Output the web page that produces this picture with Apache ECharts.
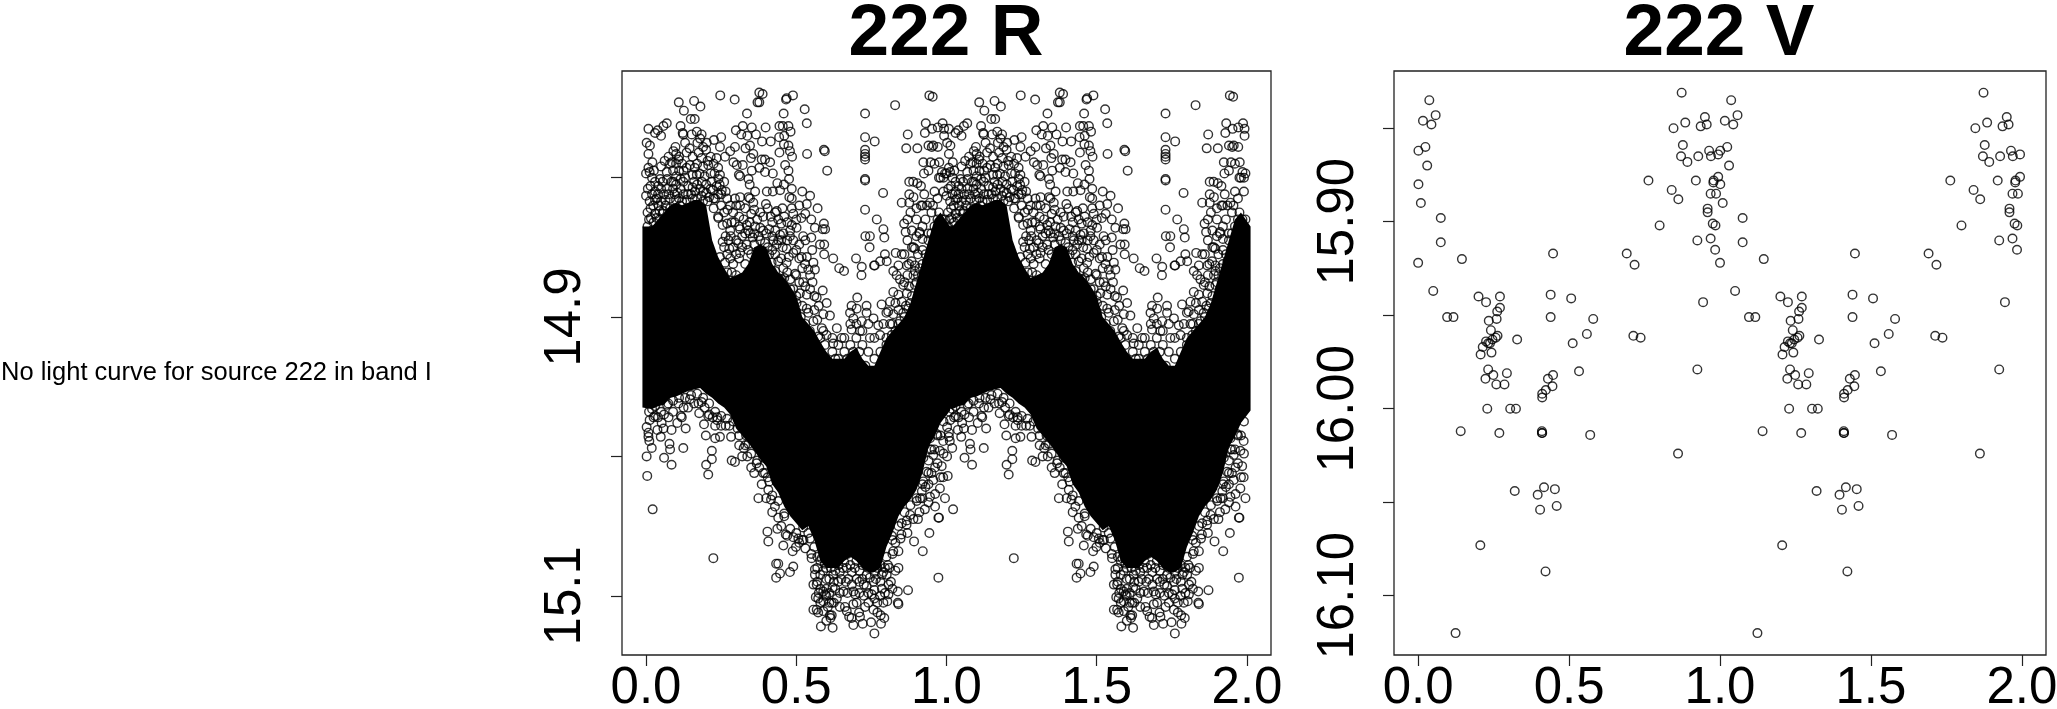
<!DOCTYPE html>
<html><head><meta charset="utf-8">
<style>html,body{margin:0;padding:0;background:#fff}#c{width:2057px;height:709px}</style>
<script src="https://cdn.jsdelivr.net/npm/echarts@6/dist/echarts.min.js"></script>
</head><body><div id="c"></div>
<script>
// All values are estimates. [phase, magnitude], one period; the plot repeats it at phase+1.
const rUpper = [[.247,14.741],[.295,14.744],[.377,14.739],[.388,14.740],[.377,14.746],[.371,14.746],[.466,14.744],[.468,14.743],[.489,14.741],[.109,14.746],[.160,14.745],[.126,14.752],[.181,14.749],[.149,14.758],[.162,14.758],[.336,14.754],[.458,14.754],[.528,14.751],[.535,14.761],[.729,14.754],[.829,14.748],[.943,14.741],[.954,14.742],[.729,14.771],[.761,14.774],[.871,14.769],[.866,14.779],[.903,14.779],[.592,14.780],[.595,14.781],[.536,14.783],[.603,14.795],[.729,14.780],[.729,14.783],[.729,14.785],[.729,14.787],[.729,14.801],[.729,14.802],[.789,14.811],[.729,14.823],[.876,14.803],[.889,14.803],[.903,14.804],[.915,14.806],[.876,14.812],[.851,14.818],[.876,14.818],[.926,14.812],[.890,14.814],[.931,14.761],[.952,14.765],[.928,14.768],[.971,14.764],[.987,14.761],[.992,14.765],[.992,14.770],[.940,14.777],[.951,14.778],[.956,14.777],[.971,14.778],[.923,14.789],[.947,14.789],[.976,14.789],[.925,14.797],[.945,14.818],
[.008,14.765],[.030,14.768],[.050,14.770],[.039,14.766],[.058,14.763],[.069,14.761],[.002,14.775],[.013,14.777],[.008,14.783],[.021,14.789],[.008,14.793],[.000,14.797],[.115,14.763],[.122,14.768],[.124,14.769],[.169,14.767],[.185,14.769],[.152,14.769],[.130,14.775],[.171,14.775],[.202,14.775],[.226,14.773],[.250,14.771],[.246,14.778],[.091,14.781],[.296,14.778],[.280,14.781],[.263,14.785],[.331,14.779],[.346,14.777],[.299,14.766],[.322,14.763],[.352,14.764],[.317,14.769],[.337,14.770],[.366,14.769],[.398,14.764],[.444,14.763],[.455,14.763],[.474,14.763],[.481,14.767],[.460,14.770],[.443,14.771],[.386,14.774],[.415,14.774],[.459,14.776],[.474,14.777],[.444,14.782],[.479,14.781],[.486,14.785],[.357,14.783],[.349,14.786],[.385,14.787],[.413,14.789],[.396,14.787],[.291,14.789],[.302,14.791],[.322,14.791],[.377,14.793],[.352,14.795],[.396,14.796],[.422,14.797],[.463,14.791],[.474,14.795],[.476,14.801],[.309,14.798],[.313,14.799],[.341,14.801],[.345,14.805],[.363,14.810],[.341,14.814],[.437,14.804],[.459,14.805],[.446,14.809],[.485,14.808],[.485,14.815],[.477,14.814],[.402,14.810],[.422,14.810],[.520,14.810],[.546,14.813],[.535,14.819],[.571,14.822],[.485,14.822],[.454,14.822],[.399,14.819],[.435,14.824],[.246,14.798],[.241,14.801],[.252,14.809],[.191,14.810],[.219,14.803],[.222,14.809],[.296,14.815],[.313,14.814],[.346,14.815],[.357,14.818],[.271,14.823],[.313,14.820],[.069,14.796],[.080,14.790],[.047,14.801],[.091,14.803],[.124,14.803],[.169,14.798],[.207,14.791],[.146,14.791],[.108,14.787],[.186,14.803],[.163,14.810],[.035,14.815],[.000,14.813],[.024,14.820],[.058,14.824],[.113,14.820]];
const rUpperDense = [[.10,14.783],[.11,14.785],[.12,14.790],[.10,14.790],[.125,14.795],[.11,14.795],[.09,14.795],[.18,14.772],[.19,14.778],[.175,14.782],[.20,14.780],[.185,14.786],[.205,14.788],[.19,14.792],[.17,14.790],[.215,14.785],[.02,14.800],[.03,14.803],[.015,14.806],[.04,14.806],[.03,14.810],[.02,14.812],[.10,14.805],[.115,14.808],[.125,14.812],[.095,14.812],[.11,14.815],[.08,14.815],[.13,14.800],[.14,14.806],[.15,14.812],[.07,14.808],[.06,14.812],[.17,14.815],[.19,14.817],[.21,14.814],[.23,14.815],[.25,14.812],[.16,14.803],[.18,14.808],[.20,14.805],[.005,14.825],[.015,14.822],[.03,14.826],[.045,14.824],[.01,14.830],[.025,14.832],[.045,14.830],[.065,14.82],[.08,14.822],[.26,14.825],[.27,14.833],[.24,14.828],[.225,14.822],[.29,14.825],[.31,14.828],[.33,14.822],[.35,14.826],[.37,14.83],[.39,14.828],[.42,14.832],[.44,14.83],[.46,14.828],[.5,14.83],[.28,14.838],[.3,14.845],[.32,14.842],[.34,14.838],[.36,14.84],[.38,14.836],[.4,14.84],[.42,14.842],[.48,14.838],[.27,14.868],[.29,14.862],[.31,14.858],[.33,14.862],[.35,14.855],[.37,14.858],[.39,14.868],[.41,14.855],[.43,14.855],[.45,14.858],[.47,14.868],[.5,14.87],[.52,14.865],[.45,14.873],[.48,14.88],[.5,14.885],[.52,14.892],[.54,14.897],[.57,14.902],[.59,14.91],[.62,14.925],[.64,14.93],[.66,14.925],[.68,14.92],[.7,14.915],[.72,14.92],[.74,14.925],[.76,14.93],[.78,14.925],[.8,14.915],[.82,14.905],[.84,14.905],[.86,14.9],[.88,14.89],[.9,14.875],[.91,14.865],[.93,14.855],[.95,14.84],[.97,14.83],[.99,14.81],[.96,14.81],[.98,14.8],[.995,14.797],[.985,14.796],[.99,14.80],[.975,14.8],[.97,14.815],[.95,14.825],[.93,14.83],[.91,14.84],[.89,14.85],[.87,14.87],[.96,14.79],[.94,14.795],[.92,14.82],[.9,14.83]];
const rUpperPeak = [[.012,14.796],[.026,14.795],[.05,14.792],[.062,14.788],[.075,14.785],[.086,14.789],[.098,14.778],[.135,14.782],[.145,14.779],[.155,14.785],[.162,14.793],[.225,14.79],[.235,14.786],[.24,14.793],[.215,14.797],[.228,14.797],[.195,14.799],[.178,14.797],[.155,14.798],[.135,14.793],[.115,14.801],[.1,14.799],[.085,14.803],[.07,14.801],[.055,14.803],[.05,14.808],[.04,14.812],[.075,14.812],[.09,14.808],[.105,14.811],[.14,14.812],[.155,14.807],[.17,14.805],[.185,14.813],[.2,14.811],[.215,14.808],[.235,14.806],[.245,14.805],[.26,14.803],[.265,14.81],[.24,14.812],[.225,14.815],[.205,14.817],[.155,14.815],[.135,14.816],[.12,14.817],[.1,14.816],[.065,14.816],[.05,14.817],[.012,14.817],[.006,14.808],[.03,14.816],[.042,14.82],[.016,14.829],[.035,14.829],[.005,14.835],[.02,14.838],[.055,14.826],[.27,14.815],[.28,14.82],[.3,14.82],[.285,14.832],[.25,14.82]];
const rDescent = [[.325,14.83],[.345,14.832],[.36,14.823],[.38,14.825],[.405,14.822],[.415,14.828],[.43,14.825],[.45,14.833],[.47,14.832],[.49,14.826],[.51,14.82],[.53,14.826],[.55,14.83],[.295,14.832],[.31,14.835],[.33,14.84],[.355,14.843],[.375,14.842],[.39,14.838],[.41,14.837],[.43,14.838],[.45,14.845],[.47,14.845],[.49,14.845],[.51,14.848],[.53,14.845],[.55,14.843],[.265,14.842],[.275,14.845],[.29,14.85],[.3,14.855],[.32,14.85],[.34,14.852],[.36,14.848],[.38,14.845],[.405,14.85],[.42,14.852],[.44,14.845],[.455,14.85],[.475,14.857],[.51,14.858],[.54,14.866],[.5,14.852],[.44,14.86],[.43,14.867],[.405,14.872],[.42,14.875],[.46,14.872],[.48,14.873],[.51,14.875],[.53,14.878],[.56,14.885],[.575,14.892],[.36,14.862],[.345,14.868],[.33,14.872],[.3,14.87],[.285,14.868],[.26,14.85],[.255,14.846],[.27,14.855],[.31,14.878],[.32,14.882],[.345,14.878],[.36,14.88],[.47,14.885],[.49,14.88],[.5,14.896],[.515,14.9],[.53,14.905],[.545,14.91],[.56,14.895],[.58,14.915],[.595,14.92]];
const rAscent = [[.88,14.825],[.9,14.822],[.915,14.82],[.935,14.82],[.955,14.82],[.975,14.825],[.985,14.83],[.995,14.83],[.87,14.83],[.885,14.838],[.9,14.842],[.92,14.835],[.94,14.84],[.96,14.835],[.975,14.835],[.87,14.845],[.885,14.85],[.905,14.855],[.92,14.852],[.94,14.845],[.86,14.855],[.875,14.862],[.89,14.87],[.905,14.87],[.92,14.862],[.935,14.86],[.845,14.873],[.86,14.875],[.875,14.878],[.885,14.885],[.9,14.89],[.91,14.88],[.83,14.89],[.84,14.895],[.865,14.892],[.88,14.9],[.89,14.905],[.8,14.897],[.79,14.905],[.83,14.91],[.85,14.915],[.865,14.91],[.8,14.92],[.82,14.92],[.84,14.925],[.79,14.93],[.81,14.935]];
const rNotch = [[.63,14.93],[.65,14.935],[.67,14.93],[.69,14.925],[.71,14.925],[.73,14.935],[.75,14.94],[.77,14.94],[.64,14.92],[.66,14.915],[.68,14.905],[.7,14.905],[.72,14.91],[.74,14.905],[.76,14.915],[.62,14.915],[.64,14.945],[.66,14.94],[.68,14.935],[.7,14.93],[.72,14.94],[.74,14.945],[.76,14.948],[.78,14.94]];
const rMiddle = [[.517,14.829],[.592,14.833],[.588,14.837],[.596,14.837],[.562,14.836],[.768,14.830],[.859,14.833],[.864,14.839],[.790,14.837],[.793,14.843],[.745,14.842],[.730,14.842],[.744,14.850],[.910,14.839],[.920,14.844],[.895,14.851],[.699,14.858],[.718,14.864],[.717,14.870],[.759,14.863],[.761,14.863],[.779,14.860],[.801,14.860],[.795,14.855],[.831,14.854],[.851,14.855],[.868,14.863],[.840,14.863],[.884,14.860],[.895,14.863],[.895,14.867],[.823,14.867],[.834,14.870],[.623,14.858],[.643,14.865],[.659,14.867],[.593,14.848],[.593,14.855],[.553,14.852],[.579,14.848],[.518,14.857],[.535,14.857],[.529,14.862],[.557,14.861],[.562,14.866],[.546,14.870],[.523,14.875],[.554,14.875],[.523,14.842],[.501,14.836],[.485,14.834],[.457,14.840],[.424,14.845],[.479,14.842],[.396,14.847],[.468,14.851],[.490,14.854],[.435,14.848],[.446,14.841],[.313,14.837],[.335,14.834],[.363,14.835],[.346,14.840],[.282,14.842],[.255,14.834],[.241,14.829],[.307,14.847],[.277,14.851],[.335,14.848],[.246,14.857],[.280,14.858],[.263,14.861],[.313,14.854],[.418,14.867],[.457,14.865],[.440,14.872],[.496,14.869],[.468,14.861],[.418,14.861],[.588,14.881],[.703,14.886],[.546,14.880],[.568,14.886],[.601,14.890],[.612,14.899],[.512,14.883],[.535,14.884],[.684,14.892],[.679,14.897],[.701,14.894],[.734,14.892],[.784,14.891],[.734,14.897],[.690,14.901],[.757,14.901],[.718,14.903],[.773,14.906],[.684,14.909],[.712,14.910],[.635,14.908],[.651,14.915],[.623,14.919],[.779,14.913],[.745,14.915],[.823,14.882],[.856,14.877],[.840,14.884],[.868,14.883],[.812,14.889],[.851,14.889],[.806,14.896],[.856,14.897],[.823,14.898],[.812,14.905],[.856,14.910],[.845,14.903],[.818,14.913],[.868,14.915],[.895,14.877],[.873,14.894],[.590,14.898],[.557,14.903],[.585,14.908],[.601,14.913],[.573,14.914],[.535,14.894],[.501,14.890]];
const rBay = [[.002,14.979],[.008,14.983],[.008,14.986],[.011,14.989],[.019,14.994],[.002,15.000],[.004,15.014],[.022,15.038],[.038,14.981],[.058,14.980],[.052,14.976],[.049,14.986],[.085,14.981],[.104,14.976],[.116,14.971],[.119,14.972],[.132,14.980],[.078,14.991],[.080,14.995],[.124,14.994],[.060,15.001],[.085,15.006],[.177,14.969],[.193,14.977],[.199,14.985],[.230,14.987],[.246,14.986],[.283,14.986],[.277,14.978],[.219,14.996],[.219,15.002],[.200,15.006],[.207,15.013],[.285,15.003],[.296,15.004],[.237,14.974],[.237,14.972],[.207,14.971],[.222,14.972],[.325,14.994],[.333,14.985],[.337,15.000],[.341,14.991],[.368,15.005],[.377,15.008],[.396,15.012],[.405,15.015],[.390,15.001],[.374,14.993],[.407,15.024],[.374,15.030],[.416,15.031],[.429,15.036],[.460,15.041],[.030,14.971],[.074,14.962],[.108,14.962],[.146,14.959],[.185,14.961],[.989,15.015],[.995,15.030],[.973,15.044],[.962,15.036],[.940,15.033],[.928,15.038],[.945,15.029],[.962,15.027],[.978,15.023],[.956,15.017],[.934,15.011],[.945,14.995],[.984,15.007],[.879,15.042],[.901,15.032],[.918,15.025],[.923,15.018],[.912,15.030],[.868,15.046],[.967,14.984],[.989,14.989],[.945,14.987],[.956,14.999],[.978,14.996],[.962,15.008],[.923,15.001],[.928,14.992]];
const rBayEdge = [[.012,14.974],[.025,14.972],[.04,14.972],[.06,14.97],[.075,14.972],[.09,14.968],[.125,14.965],[.14,14.965],[.16,14.962],[.175,14.962],[.195,14.965],[.21,14.97],[.23,14.978],[.25,14.978],[.265,14.978],[.29,14.975],[.305,14.98],[.31,14.992],[.32,15.0],[.35,15.008],[.36,15.012],[.385,15.02],[.4,15.03],[.42,15.04],[.44,15.044],[.45,15.05],[.47,15.057],[.49,15.058],[.51,15.062],[.53,15.066],[.55,15.07],[.92,15.03],[.91,15.04],[.89,15.045],[.87,15.055],[.85,15.056],[.83,15.062],[.94,15.02],[.95,15.012],[.97,15.005],[.98,15.015],[.99,14.998],[.96,14.995],[.98,14.985],[.94,15.012],[.93,15.022],[.905,15.045]];
const rLower = [[.224,15.073],[.404,15.054],[.407,15.061],[.437,15.052],[.457,15.064],[.465,15.056],[.488,15.068],[.499,15.065],[.507,15.059],[.433,15.077],[.440,15.077],[.490,15.079],[.446,15.084],[.479,15.083],[.433,15.087],[.524,15.060],[.546,15.059],[.551,15.073],[.523,15.051],[.562,15.081],[.562,15.085],[.568,15.092],[.557,15.092],[.565,15.101],[.573,15.102],[.557,15.110],[.568,15.110],[.573,15.112],[.582,15.122],[.621,15.123],[.612,15.114],[.614,15.116],[.618,15.114],[.590,15.111],[.596,15.099],[.621,15.094],[.623,15.085],[.635,15.102],[.618,15.105],[.657,15.097],[.690,15.097],[.696,15.099],[.673,15.088],[.701,15.088],[.668,15.080],[.662,15.108],[.668,15.111],[.676,15.115],[.684,15.116],[.690,15.121],[.709,15.112],[.712,15.115],[.721,15.120],[.749,15.119],[.760,15.127],[.782,15.120],[.793,15.116],[.781,15.114],[.770,15.112],[.757,15.110],[.729,15.108],[.701,15.105],[.690,15.106],[.751,15.099],[.779,15.100],[.803,15.104],[.807,15.099],[.840,15.106],[.838,15.105],[.838,15.097],[.872,15.096],[.840,15.080],[.807,15.092],[.801,15.085],[.734,15.093],[.734,15.085],[.757,15.090],[.973,15.087],[.921,15.068],[.943,15.055],[.892,15.061],[.975,15.044],[.847,15.059],[.840,15.068],[.818,15.057],[.867,15.049],[.851,15.048],[.823,15.068]];
const rEdge = [[.01,14.968],[.02,14.966],[.03,14.964],[.05,14.968],[.07,14.963],[.09,14.96],[.11,14.958],[.13,14.958],[.15,14.956],[.17,14.955],[.19,14.958],[.21,14.962],[.23,14.968],[.25,14.971],[.27,14.973],[.31,14.985],[.33,14.992],[.35,14.998],[.37,15.003],[.39,15.012],[.41,15.018],[.42,15.028],[.44,15.032],[.46,15.043],[.48,15.052],[.5,15.055],[.52,15.06],[.54,15.055],[.56,15.065],[.57,15.072],[.82,15.06],[.84,15.05],[.86,15.04],[.88,15.035],[.9,15.03],[.92,15.02],[.94,15.003],[.95,14.995],[.97,14.985],[.99,14.975],[.58,15.075],[.6,15.08],[.62,15.076],[.64,15.078],[.66,15.076],[.68,15.078],[.7,15.075],[.72,15.078],[.74,15.08],[.76,15.078],[.78,15.078],[.8,15.072],[.6,15.088],[.64,15.09],[.72,15.088],[.76,15.083],[.78,15.09],[.81,15.08],[.82,15.07],[.58,15.085],[.57,15.09],[.59,15.097],[.61,15.105],[.58,15.105],[.6,15.118]];
const rTrough = [[.585,15.073],[.595,15.077],[.605,15.073],[.615,15.08],[.63,15.082],[.645,15.083],[.655,15.08],[.67,15.07],[.685,15.083],[.695,15.08],[.71,15.082],[.725,15.075],[.735,15.078],[.75,15.08],[.77,15.08],[.79,15.083],[.805,15.078],[.59,15.082],[.61,15.088],[.625,15.09],[.65,15.088],[.665,15.09],[.685,15.092],[.71,15.09],[.725,15.092],[.745,15.087],[.765,15.088],[.785,15.085],[.795,15.08],[.58,15.095],[.6,15.095],[.61,15.098],[.63,15.095],[.645,15.098],[.67,15.098],[.71,15.098],[.725,15.1],[.74,15.098],[.76,15.096],[.785,15.095],[.795,15.098],[.815,15.09],[.83,15.082],[.57,15.08],[.575,15.098],[.59,15.104],[.605,15.108],[.6,15.1],[.625,15.105],[.645,15.108],[.74,15.105],[.76,15.102],[.77,15.105],[.79,15.105],[.82,15.095]];
// Too many overlapping circles to read singly: upper and lower limit of the solid black mass, per phase.
const corePhase = [0,.02,.04,.06,.08,.10,.12,.14,.16,.18,.20,.22,.24,.26,.28,.30,.32,.34,.36,.38,.40,.42,.44,.46,.48,.50,.52,.54,.56,.58,.60,.62,.64,.66,.68,.70,.72,.74,.76,.78,.80,.82,.84,.86,.88,.90,.92,.94,.96,.98,1];
const coreTop = [14.835,14.835,14.83,14.825,14.82,14.818,14.82,14.818,14.816,14.816,14.82,14.845,14.857,14.865,14.872,14.87,14.868,14.862,14.85,14.848,14.85,14.862,14.868,14.872,14.878,14.885,14.9,14.905,14.91,14.918,14.925,14.93,14.93,14.93,14.925,14.922,14.93,14.935,14.935,14.925,14.915,14.91,14.905,14.9,14.89,14.875,14.86,14.845,14.83,14.825,14.835];
const coreBottom = [14.965,14.966,14.964,14.963,14.958,14.957,14.955,14.953,14.952,14.951,14.955,14.958,14.962,14.965,14.970,14.98,14.985,14.99,14.996,15.002,15.007,15.02,15.026,15.036,15.043,15.048,15.053,15.05,15.06,15.075,15.08,15.08,15.08,15.075,15.072,15.075,15.08,15.083,15.083,15.08,15.065,15.055,15.043,15.036,15.031,15.024,15.012,14.993,14.986,14.976,14.967];
const vPoints = [[.037,15.835],[.058,15.843],[.016,15.846],[.044,15.848],[.024,15.860],[.001,15.862],[.030,15.870],[.009,15.890],[.075,15.898],[.075,15.911],[.145,15.920],[.000,15.922],[.050,15.937],[.200,15.940],[.225,15.943],[.271,15.940],[.271,15.946],[.262,15.948],[.096,15.951],[.117,15.951],[.234,15.953],[.260,15.952],[.241,15.958],[.263,15.961],[.257,15.962],[.328,15.963],[.225,15.964],[.246,15.963],[.238,15.965],[.232,15.965],[.214,15.967],[.243,15.970],[.207,15.971],[.447,15.917],[.691,15.917],[.717,15.923],[.439,15.939],[.507,15.941],[.439,15.951],[.580,15.952],[.559,15.960],[.512,15.965],[.713,15.961],[.737,15.962],[.873,15.831],[.950,15.844],[.885,15.847],[.956,15.848],[.936,15.849],[.846,15.850],[.877,15.859],[.964,15.862],[.928,15.865],[.871,15.865],[.970,15.865],[.994,15.864],[.892,15.868],[.763,15.878],[.920,15.878],[.979,15.878],[.978,15.879],[.994,15.876],[.001,15.880],[.840,15.883],[.862,15.888],[.969,15.885],[.987,15.885],[.959,15.893],[.959,15.895],[.976,15.901],[.985,15.902],[.800,15.902],[.925,15.910],[.969,15.909],[.984,15.915],[.944,15.943],[.232,15.979],[.249,15.982],[.294,15.981],[.223,15.984],[.259,15.987],[.286,15.987],[.447,15.982],[.430,15.984],[.445,15.988],[.423,15.990],[.411,15.992],[.411,15.994],[.533,15.980],[.229,16.000],[.305,16.000],[.324,16.000],[.141,16.012],[.269,16.013],[.410,16.012],[.410,16.013],[.411,16.013],[.570,16.014],[.861,16.024],[.925,15.979],[.320,16.044],[.417,16.042],[.453,16.043],[.396,16.046],[.404,16.054],[.459,16.052],[.206,16.073],[.422,16.087],[.124,16.120]];
const xTicks = [0,.5,1,1.5,2];
const rTicks = [14.8,14.9,15.0,15.1];
const rLabels = [14.9,15.1];
const vTicks = [15.85,15.90,15.95,16.00,16.05,16.10];
const vLabels = [15.90,16.00,16.10];
const noCurveText = 'No light curve for source 222 in band I';

const twoPeriods = pts => pts.concat(pts.map(p => [p[0] + 1, p[1]]));
const rPoints = [].concat(rUpper, rUpperDense, rUpperPeak, rDescent, rAscent, rNotch, rMiddle, rBay, rBayEdge, rLower, rEdge, rTrough);

const FONT = '"Liberation Sans", Arial, sans-serif';
function xAxis(gi) {
  return { type:'value', gridIndex:gi, min:-0.08, max:2.08, position:'bottom',
    axisLine:{show:false, onZero:false}, splitLine:{show:false},
    axisTick:{show:true, length:11, customValues:xTicks, lineStyle:{color:'#222', width:1.2}},
    axisLabel:{customValues:xTicks, margin:8, fontFamily:FONT, fontSize:51, color:'#000', formatter:v => v.toFixed(1), hideOverlap:false, showMinLabel:true, showMaxLabel:true} };
}
function yAxis(gi, min, max, ticks, labels, dec, margin) {
  return { type:'value', gridIndex:gi, inverse:true, min, max, position:'left',
    axisLine:{show:false, onZero:false}, splitLine:{show:false},
    axisTick:{show:true, length:11, customValues:ticks, lineStyle:{color:'#222', width:1.2}},
    axisLabel:{customValues:labels, rotate:90, margin, fontFamily:FONT, fontSize:51, color:'#000', formatter:v => v.toFixed(dec), hideOverlap:false} };
}
const circle = { symbol:'circle', symbolSize:8.6, itemStyle:{color:'rgba(0,0,0,0)', borderColor:'#000', borderWidth:1.4}, silent:true, animation:false, large:false };

const chart = echarts.init(document.getElementById('c'), null, {renderer:'canvas'});
chart.setOption({
  backgroundColor:'#fff', animation:false,
  title:[
    {text:'222 R', left:946, top:-2, padding:0, textAlign:'center', textStyle:{fontFamily:FONT, fontWeight:'bold', fontSize:73, color:'#000'}},
    {text:'222 V', left:1719, top:-2, padding:0, textAlign:'center', textStyle:{fontFamily:FONT, fontWeight:'bold', fontSize:73, color:'#000'}},
    {text:noCurveText, left:1, top:360, padding:0, textStyle:{fontFamily:FONT, fontWeight:'normal', fontSize:25.5, color:'#000'}}
  ],
  grid:[
    {left:622, top:71, width:649, height:584, show:true, borderColor:'#222', borderWidth:1.3, backgroundColor:'#fff', outerBoundsMode:'none'},
    {left:1394, top:71, width:652, height:584, show:true, borderColor:'#222', borderWidth:1.3, backgroundColor:'#fff', outerBoundsMode:'none'}
  ],
  xAxis:[xAxis(0), xAxis(1)],
  yAxis:[yAxis(0,14.7235,15.1425,rTicks,rLabels,1,31), yAxis(1,15.8194,16.1317,vTicks,vLabels,2,30)],
  series:[
    { type:'custom', xAxisIndex:0, yAxisIndex:0, silent:true, animation:false, data:[0,1], encode:{x:0},
      renderItem:(params, api) => {
        const off = api.value(0);
        const xOf = p => off + p + (p === 0 ? -0.012 : p === 1 ? 0.012 : 0);
        const upper = corePhase.map((p, i) => api.coord([xOf(p), coreTop[i]]));
        const lower = corePhase.map((p, i) => api.coord([xOf(p), coreBottom[i]])).reverse();
        return {type:'polygon', shape:{points:upper.concat(lower)}, style:{fill:'#000'}};
      }},
    Object.assign({type:'scatter', xAxisIndex:0, yAxisIndex:0, data:twoPeriods(rPoints)}, circle),
    Object.assign({type:'scatter', xAxisIndex:1, yAxisIndex:1, data:twoPeriods(vPoints)}, circle)
  ]
});
</script></body></html>
